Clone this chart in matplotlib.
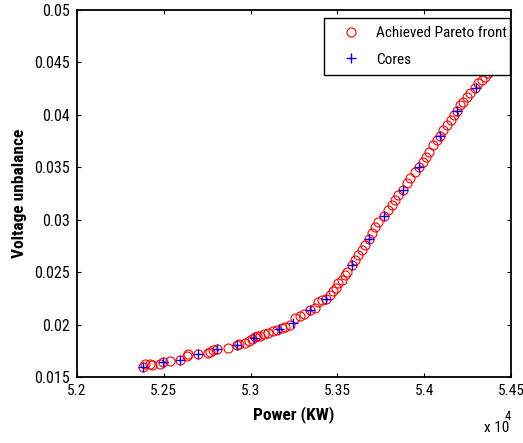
import matplotlib
matplotlib.use("Agg")
import matplotlib.pyplot as plt
from matplotlib import font_manager
from matplotlib.transforms import ScaledTranslation
from matplotlib.ticker import FuncFormatter, MultipleLocator

# pick a narrow font if one is installed
names = {f.name for f in font_manager.fontManager.ttflist}
FONT = "DejaVu Sans"
for cand in ["Liberation Sans Narrow", "DejaVu Sans Condensed", "Roboto Condensed", "Open Sans Condensed"]:
    if cand in names:
        FONT = cand
        break

# --- DATA (Power in KW, Voltage unbalance) ---
pareto_power = [
    52378, 52392, 52420, 52430, 52478, 52497, 52536, 52593, 52635, 52641,
    52699, 52756, 52766, 52785, 52805, 52868, 52923, 52935, 52968, 52992,
    53006, 53025, 53035, 53054, 53077, 53102, 53127, 53150, 53179, 53198,
    53227, 53256, 53284, 53309, 53342, 53371, 53390, 53409, 53434, 53457,
    53473, 53492, 53505, 53525, 53544, 53557, 53582, 53601, 53620, 53640,
    53659, 53682, 53697, 53716, 53736, 53770, 53793, 53813, 53832, 53851,
    53876, 53899, 53918, 53947, 53972, 53991, 54010, 54029, 54052, 54072,
    54091, 54110, 54133, 54153, 54172, 54187, 54206, 54225, 54245, 54264,
    54293, 54312, 54331, 54350, 54370, 54390,
]
pareto_unbalance = [
    0.01598, 0.01624, 0.01624, 0.01614, 0.01624, 0.01646, 0.01656, 0.01662, 0.01700, 0.01717,
    0.01717, 0.01726, 0.01736, 0.01758, 0.01767, 0.01779, 0.01805, 0.01815, 0.01827, 0.01846,
    0.01860, 0.01879, 0.01891, 0.01891, 0.01910, 0.01922, 0.01942, 0.01948, 0.01964, 0.01980,
    0.01996, 0.02060, 0.02082, 0.02098, 0.02139, 0.02155, 0.02218, 0.02234, 0.02244, 0.02282,
    0.02320, 0.02346, 0.02394, 0.02425, 0.02473, 0.02504, 0.02568, 0.02616, 0.02664, 0.02711,
    0.02759, 0.02816, 0.02870, 0.02933, 0.02981, 0.03035, 0.03093, 0.03140, 0.03188, 0.03236,
    0.03279, 0.03347, 0.03395, 0.03458, 0.03500, 0.03553, 0.03601, 0.03649, 0.03713, 0.03760,
    0.03801, 0.03856, 0.03903, 0.03951, 0.03999, 0.04039, 0.04094, 0.04126, 0.04167, 0.04206,
    0.04254, 0.04301, 0.04333, 0.04364, 0.04400, 0.04440,
]

cores_power = [
    52378, 52494, 52593, 52695, 52805, 52923, 53021, 53165, 53243, 53342,
    53434, 53582, 53682, 53770, 53876, 53972, 54091, 54187, 54296,
]
cores_unbalance = [
    0.01598, 0.01646, 0.01662, 0.01716, 0.01764, 0.01805, 0.01875, 0.01958, 0.02012, 0.02139,
    0.02244, 0.02568, 0.02816, 0.03035, 0.03279, 0.03500, 0.03801, 0.04039, 0.04258,
]

SCALE = 1e4

# --- PLOT ---
fig = plt.figure(figsize=(5.23, 4.43), dpi=100)
ax = fig.add_axes([77 / 523, 66 / 443, 434 / 523, 367 / 443])

ax.plot([p / SCALE for p in pareto_power], pareto_unbalance, "o", mfc="none", mec="red",
        ms=6.5, mew=0.8, label="Achieved Pareto front")
ax.plot([p / SCALE for p in cores_power], cores_unbalance, "+", color="blue",
        ms=7, mew=1.0, label="Cores")

ax.set_xlim(5.2, 5.45)
ax.set_ylim(0.015, 0.05)
ax.xaxis.set_major_locator(MultipleLocator(0.05))
ax.yaxis.set_major_locator(MultipleLocator(0.005))
ax.xaxis.set_major_formatter(FuncFormatter(lambda v, p: "%g" % round(v, 4)))
ax.yaxis.set_major_formatter(FuncFormatter(lambda v, p: "%g" % round(v, 4)))
ax.tick_params(direction="in", length=3, width=0.8, top=True, right=True,
               labelsize=11.5, pad=5)
ax.tick_params(axis="x", labelsize=11)
for s in ax.spines.values():
    s.set_linewidth(1.3)

ax.set_xlabel("Power (KW)", fontsize=12.5, fontweight="bold", family=FONT, labelpad=6)
ax.set_ylabel("Voltage unbalance", fontsize=12.5, fontweight="bold", family=FONT, labelpad=5)

fig.text(484 / 523, 1 - 428 / 443, "x 10", fontsize=11, family=FONT, va="center", ha="left")
fig.text(505 / 523, 1 - 416 / 443, "4", fontsize=9, family=FONT, va="center", ha="left")

leg = ax.legend(loc="lower left", bbox_to_anchor=(0.569, 0.823, 0.429, 0.158), mode="expand",
                numpoints=1, fancybox=False, framealpha=1, edgecolor="black",
                prop={"family": FONT, "size": 11}, handlelength=2.5, handletextpad=0.35,
                labelspacing=0.8, borderpad=0.55, borderaxespad=0)
leg.get_frame().set_linewidth(1.0)

# fonts for tick labels, and keep the last x tick label inside the figure
fig.canvas.draw()
for lab in ax.get_xticklabels() + ax.get_yticklabels():
    lab.set_fontfamily(FONT)
last = ax.xaxis.get_major_ticks()[-1].label1
last.set_transform(last.get_transform() + ScaledTranslation(-3 / 100, 0, fig.dpi_scale_trans))

plt.savefig("out.png", dpi=100)
